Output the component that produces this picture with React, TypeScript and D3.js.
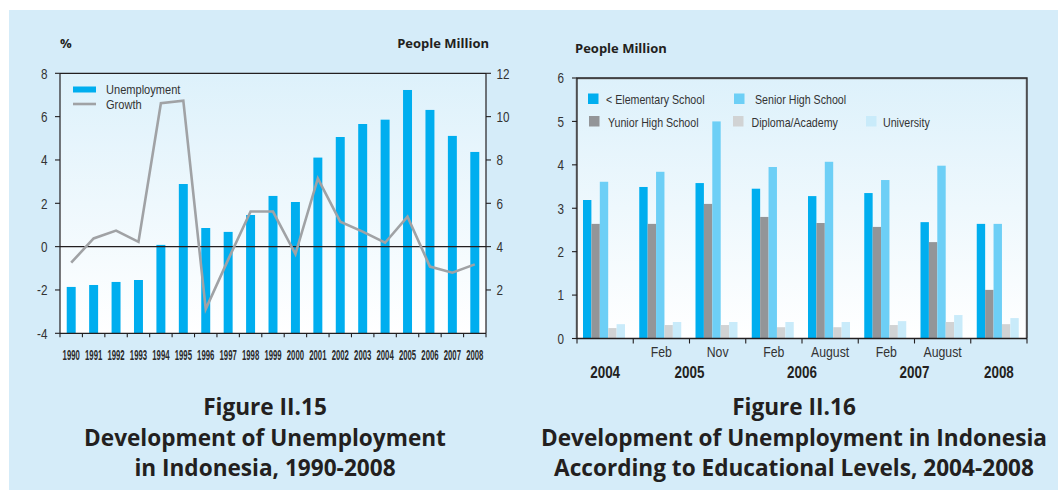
import React from "react";
import * as d3 from "d3";

// ---------- Data: Figure II.15 ----------
const years = ["1990","1991","1992","1993","1994","1995","1996","1997","1998","1999","2000","2001","2002","2003","2004","2005","2006","2007","2008"];
const unemployment = [2.14, 2.23, 2.37, 2.46, 4.08, 6.89, 4.86, 4.68, 5.46, 6.34, 6.06, 8.11, 9.06, 9.66, 9.86, 11.23, 10.31, 9.11, 8.37];
const growth = [-0.74, 0.38, 0.74, 0.22, 6.62, 6.74, -2.88, -0.6, 1.62, 1.62, -0.34, 3.15, 1.15, 0.69, 0.18, 1.38, -0.92, -1.2, -0.82];
const leftTicksPct = [-4, -2, 0, 2, 4, 6, 8];
const rightTicksMillion = [2, 4, 6, 8, 10, 12];

// ---------- Data: Figure II.16 ----------
const periods = ["2004", "Feb 2005", "Nov 2005", "Feb 2006", "Aug 2006", "Feb 2007", "Aug 2007", "2008"];
const monthLabels = ["", "Feb", "Nov", "Feb", "August", "Feb", "August", ""];
const yearSpans: [string, number, number][] = [["2004", 0, 0], ["2005", 1, 2], ["2006", 3, 4], ["2007", 5, 6], ["2008", 7, 7]];
const seriesNames = ["< Elementary School", "Yunior High School", "Senior High School", "Diploma/Academy", "University"];
const elementary = [3.19, 3.49, 3.58, 3.45, 3.28, 3.35, 2.68, 2.64];
const yunior = [2.64, 2.64, 3.10, 2.80, 2.66, 2.57, 2.22, 1.12];
const senior = [3.61, 3.84, 5.0, 3.95, 4.07, 3.65, 3.98, 2.64];
const diploma = [0.24, 0.31, 0.31, 0.26, 0.26, 0.31, 0.38, 0.33];
const university = [0.33, 0.38, 0.38, 0.38, 0.38, 0.40, 0.54, 0.47];
const eduTicks = [0, 1, 2, 3, 4, 5, 6];

// ---------- Styles ----------
const seriesColors = ["#00AEEF", "#939598", "#6DCFF6", "#D1D3D4", "#C9EBFA"];
const legendPos = [
  { sx: 588, sy: 93.5, tx: 606, ty: 104 },
  { sx: 589, sy: 116, tx: 608, ty: 126.5 },
  { sx: 734, sy: 93.5, tx: 755, ty: 104 },
  { sx: 733, sy: 116, tx: 751.5, ty: 126.5 },
  { sx: 866, sy: 116, tx: 883, ty: 126.5 },
];
const DARK = "#231F20";
const SANS = "'Liberation Sans', Arial, sans-serif";
const BOLD = "'Open Sans', 'Noto Sans', sans-serif";

type NTProps = {
  x: number; y: number; sx?: number; size: number; anchor?: "start" | "middle" | "end";
  weight?: number; fill?: string; dy?: string; children: React.ReactNode;
};
// Condensed text: horizontally scaled sans to mimic a narrow face
function NT({ x, y, sx = 0.82, size, anchor = "start", weight = 400, fill = "#333", dy, children }: NTProps) {
  return (
    <text transform={`translate(${x},${y}) scale(${sx},1)`} textAnchor={anchor} fontFamily={SANS}
      fontSize={size} fontWeight={weight} fill={fill} dy={dy}>{children}</text>
  );
}

export default function App() {
  // Left chart scales
  const L = { x0: 60, x1: 486, top: 73.3, bottom: 333.3 };
  const xL = d3.scaleBand<string>().domain(years).range([L.x0, L.x1]).paddingInner(0.6).paddingOuter(0.3);
  const yPct = d3.scaleLinear().domain([-4, 8]).range([L.bottom, L.top]);
  const yMil = d3.scaleLinear().domain([0, 12]).range([L.bottom, L.top]);
  const stepL = xL.step();
  const line = d3.line<number>()
    .x((_, i) => (xL(years[i]) as number) + xL.bandwidth() / 2)
    .y((d) => yPct(d));

  // Right chart scales
  const R = { x0: 577, x1: 1027, top: 78, bottom: 338.5 };
  const xG = d3.scaleBand<string>().domain(periods).range([R.x0, R.x1]).padding(0);
  const xS = d3.scaleBand<number>().domain([0, 1, 2, 3, 4]).range([6, 48]).padding(0);
  const yE = d3.scaleLinear().domain([0, 6]).range([R.bottom, R.top]);
  const eduSeries = [elementary, yunior, senior, diploma, university];
  const gCenter = (i: number) => (xG(periods[i]) as number) + xG.bandwidth() / 2;

  return (
    <div style={{ position: "absolute", left: 0, top: 0 }}>
      <svg width={1058} height={490} style={{ display: "block" }}>
        <defs>
          <linearGradient id="plotbg" x1="0" y1="0" x2="0" y2="1">
            <stop offset="0" stopColor="#DDF1FB" />
            <stop offset="1" stopColor="#FFFFFF" />
          </linearGradient>
        </defs>
        <rect x={0} y={0} width={1058} height={490} fill="#FFFFFF" />
        <rect x={9} y={10} width={1049} height={480} fill="#D5ECF9" />

        {/* ===== Left chart ===== */}
        <rect x={L.x0} y={L.top} width={L.x1 - L.x0} height={L.bottom - L.top} fill="url(#plotbg)" />
        <text x={60} y={48} fontFamily={BOLD} fontWeight={700} fontSize={13} fill={DARK}>%</text>
        <text x={489} y={48} textAnchor="end" fontFamily={BOLD} fontWeight={700} fontSize={13} fill={DARK}>People Million</text>

        {years.map((yr, i) => (
          <rect key={yr} x={xL(yr)} y={yMil(unemployment[i])} width={xL.bandwidth()}
            height={yMil(0) - yMil(unemployment[i])} fill={seriesColors[0]} />
        ))}
        <line x1={L.x0} x2={L.x1} y1={yPct(0)} y2={yPct(0)} stroke={DARK} strokeWidth={1.2} />
        <path d={line(growth) || ""} fill="none" stroke="#A0A2A5" strokeWidth={2.6} strokeLinejoin="miter" />

        {/* frame */}
        <line x1={L.x0} x2={L.x1} y1={L.top} y2={L.top} stroke={DARK} strokeWidth={1.2} />
        <line x1={L.x0} x2={L.x0} y1={L.top} y2={L.bottom} stroke={DARK} strokeWidth={1.2} />
        <line x1={L.x1} x2={L.x1} y1={L.top} y2={L.bottom} stroke={DARK} strokeWidth={1.2} />
        <line x1={L.x0} x2={L.x1} y1={L.bottom} y2={L.bottom} stroke={DARK} strokeWidth={1.2} />

        {leftTicksPct.map((t) => (
          <g key={"lp" + t}>
            <line x1={L.x0 - 5} x2={L.x0} y1={yPct(t)} y2={yPct(t)} stroke={DARK} strokeWidth={1.1} />
            <NT x={47.5} y={yPct(t)} dy="0.36em" anchor="end" size={15} sx={0.78}>{t}</NT>
          </g>
        ))}
        {rightTicksMillion.map((t) => (
          <g key={"rm" + t}>
            <line x1={L.x1} x2={L.x1 + 5} y1={yMil(t)} y2={yMil(t)} stroke={DARK} strokeWidth={1.1} />
            <NT x={496.5} y={yMil(t)} dy="0.36em" size={15} sx={0.78}>{t}</NT>
          </g>
        ))}
        {d3.range(years.length + 1).map((i) => (
          <line key={"bt" + i} x1={L.x0 + i * stepL} x2={L.x0 + i * stepL} y1={L.bottom} y2={L.bottom + 4} stroke={DARK} strokeWidth={1.1} />
        ))}
        {years.map((yr) => (
          <NT key={"yl" + yr} x={(xL(yr) as number) + xL.bandwidth() / 2} y={359.5} anchor="middle"
            size={15.5} sx={0.5} weight={700} fill="#2a2a2a">{yr}</NT>
        ))}

        {/* legend left */}
        <rect x={73} y={86.5} width={23} height={6} fill={seriesColors[0]} />
        <NT x={106} y={93.5} size={13.5}>Unemployment</NT>
        <line x1={73} x2={96} y1={104} y2={104} stroke="#A0A2A5" strokeWidth={2.6} />
        <NT x={106} y={108.5} size={13.5}>Growth</NT>

        {/* ===== Right chart ===== */}
        <rect x={R.x0} y={R.top} width={R.x1 - R.x0} height={R.bottom - R.top} fill="url(#plotbg)" />
        <text x={575} y={53} fontFamily={BOLD} fontWeight={700} fontSize={13} fill={DARK}>People Million</text>

        {periods.map((p, gi) => (
          <g key={p} transform={`translate(${xG(p)},0)`}>
            {eduSeries.map((s, si) => (
              <rect key={si} x={xS(si)} y={yE(s[gi])} width={xS.bandwidth()} height={yE(0) - yE(s[gi])} fill={seriesColors[si]} />
            ))}
          </g>
        ))}

        <path d={`M${R.x0},${R.bottom}V${R.top}H${R.x1}V${R.bottom}`} fill="none" stroke="#8A8C8E" strokeWidth={1} transform="translate(-0.8,0.8)" />
        <path d={`M${R.x0},${R.bottom}V${R.top}H${R.x1}V${R.bottom}`} fill="none" stroke={DARK} strokeWidth={1.3} />
        <line x1={R.x0} x2={R.x1} y1={R.bottom} y2={R.bottom} stroke={DARK} strokeWidth={1.3} />

        {eduTicks.map((t) => (
          <g key={"et" + t}>
            <line x1={R.x0 - 5} x2={R.x0} y1={yE(t)} y2={yE(t)} stroke={DARK} strokeWidth={1.1} />
            <NT x={564} y={yE(t)} dy="0.36em" anchor="end" size={15} sx={0.78}>{t}</NT>
          </g>
        ))}
        {d3.range(periods.length + 1).map((i) => (
          <line key={"gt" + i} x1={R.x0 + i * xG.step()} x2={R.x0 + i * xG.step()} y1={R.bottom} y2={R.bottom + 5} stroke={DARK} strokeWidth={1.1} />
        ))}
        {monthLabels.map((m, i) => (
          <NT key={"ml" + i} x={gCenter(i)} y={357} anchor="middle" size={15} sx={0.82}>{m}</NT>
        ))}
        {yearSpans.map(([lab, a, b]) => (
          <NT key={"ys" + lab} x={(gCenter(a) + gCenter(b)) / 2} y={377.5} anchor="middle" weight={700} size={16} sx={0.84} fill={DARK}>{lab}</NT>
        ))}

        {seriesNames.map((n, i) => (
          <g key={n}>
            <rect x={legendPos[i].sx} y={legendPos[i].sy} width={10.5} height={10.5} fill={seriesColors[i]} />
            <NT x={legendPos[i].tx} y={legendPos[i].ty} size={13}>{n}</NT>
          </g>
        ))}

        {/* ===== Titles ===== */}
        <g fontFamily={BOLD} fontWeight={700} fontSize={22.6} fill={DARK} textAnchor="middle">
          <text x={265} y={415}>Figure II.15</text>
          <text x={265} y={445.5}>Development of Unemployment</text>
          <text x={265} y={476}>in Indonesia, 1990-2008</text>
          <text x={794} y={415}>Figure II.16</text>
          <text x={794} y={445.5}>Development of Unemployment in Indonesia</text>
          <text x={794} y={476}>According to Educational Levels, 2004-2008</text>
        </g>
      </svg>
    </div>
  );
}
